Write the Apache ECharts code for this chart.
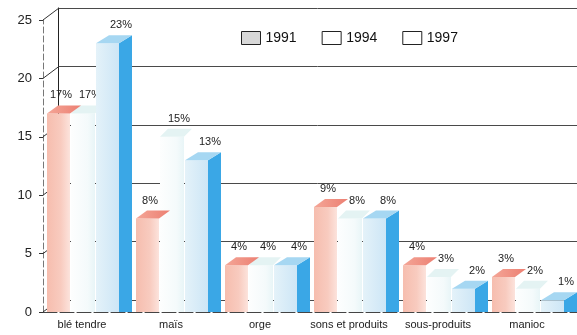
<!DOCTYPE html>
<html><head><meta charset="utf-8">
<script src="https://cdn.jsdelivr.net/npm/echarts@6/dist/echarts.min.js"></script>
<style>html,body{margin:0;padding:0;background:#fff}#c{width:577px;height:335px}</style>
</head><body><div id="c"></div>
<script>
// Parts (%) of each feed ingredient, three survey years
const categories = ['blé tendre', 'maïs', 'orge', 'sons et produits', 'sous-produits', 'manioc'];
const years = ['1991', '1994', '1997'];
const values1991 = [17, 8, 4, 9, 4, 3];
const values1994 = [17, 15, 4, 8, 3, 2];
const values1997 = [23, 13, 4, 8, 2, 1];
const yTicks = [0, 5, 10, 15, 20, 25];

const G = echarts.graphic;
// Box geometry in px of an 89px-wide category slot, plus colours
const barStyles = [
  { x0: 4, x1: 27, dx: 11, dy: 8, lx: 18,
    front: new G.LinearGradient(0, 0, 1, 0, [{offset: 0, color: '#f6bdae'}, {offset: 0.6, color: '#f8cbbf'}, {offset: 1, color: '#fce3dc'}]),
    top: new G.LinearGradient(0, 0, 1, 0, [{offset: 0, color: '#f4a697'}, {offset: 1, color: '#ec7f72'}]) },
  { x0: 28, x1: 52, dx: 8, dy: 8, lx: 47,
    front: new G.LinearGradient(0, 0, 1, 0, [{offset: 0, color: '#fdfefe'}, {offset: 0.7, color: '#f4fafb'}, {offset: 1, color: '#e8f5f7'}]),
    top: '#e4f3f3' },
  { x0: 53, x1: 76, xs: 89, dy: 8, lx: 78,
    front: new G.LinearGradient(0, 0, 1, 0, [{offset: 0, color: '#e4f2f9'}, {offset: 1, color: '#cde6f6'}]),
    side: '#3aa7e6',
    top: '#a6d7f2' }
];

function barRenderer(idx) {
  const st = barStyles[idx];
  return function (params, api) {
    const ci = api.value(0), v = api.value(1);
    const base = api.coord([ci, 0]);
    const top = api.coord([ci, v]);
    const cw = api.size([1, 0])[0];
    const k = cw / 89;
    const L = base[0] - cw / 2;
    const x0 = L + st.x0 * k, x1 = L + st.x1 * k;
    const yB = base[1], yT = top[1];
    const dy = st.dy;
    const children = [];
    children.push({ type: 'rect', shape: { x: x0, y: yT, width: x1 - x0, height: yB - yT }, style: { fill: st.front } });
    let dx = st.dx * k;
    if (st.side) {
      const xs = L + st.xs * k;
      dx = xs - x1;
      children.push({ type: 'polygon', shape: { points: [[x1, yB], [x1, yT], [xs, yT - dy], [xs, yB]] }, style: { fill: st.side } });
    }
    children.push({ type: 'polygon', shape: { points: [[x0, yT], [x1, yT], [x1 + dx, yT - dy], [x0 + dx, yT - dy]] }, style: { fill: st.top } });
    children.push({ type: 'text', style: { text: v + '%', x: L + st.lx * k, y: yT - 18, align: 'center', verticalAlign: 'middle', fontSize: 11, fontFamily: 'Liberation Sans', fill: '#222' } });
    return { type: 'group', children: children };
  };
}

const seriesValues = [values1991, values1994, values1997];
const legendFill = ['#d8d8d8', '#ffffff', '#ffffff'];

const chart = echarts.init(document.getElementById('c'));
chart.setOption({
  animation: false,
  backgroundColor: '#ffffff',
  textStyle: { fontFamily: 'Liberation Sans' },
  legend: {
    left: 236, top: 26, itemWidth: 19, itemHeight: 13, itemGap: 25, icon: 'rect',
    textStyle: { fontSize: 14, color: '#111', fontFamily: 'Liberation Sans', padding: [2, 0, 0, 0] },
    data: years.map((y, i) => ({ name: y, itemStyle: { color: legendFill[i], borderColor: '#222', borderWidth: 1 } }))
  },
  grid: [
    { left: 43, right: 0, top: 20, bottom: 23 },
    { left: 58, right: 0, top: 8, bottom: 35 }
  ],
  xAxis: [
    { type: 'category', data: categories, gridIndex: 0,
      axisLine: { lineStyle: { color: '#444', type: [14, 3] } },
      axisTick: { show: false },
      axisLabel: { fontSize: 11, color: '#222', margin: 7, padding: [0, 11, 0, 0], interval: 0 } },
    { type: 'value', gridIndex: 1, min: 0, max: 1, show: false }
  ],
  yAxis: [
    { type: 'value', gridIndex: 0, min: 0, max: 25, interval: 5,
      axisLine: { show: true, lineStyle: { color: '#777', type: [6, 3] } },
      axisTick: { show: true, length: 4, lineStyle: { color: '#333' } },
      axisLabel: { fontSize: 13, color: '#222', margin: 11 },
      splitLine: { show: false } },
    { type: 'value', gridIndex: 1, min: 0, max: 25, interval: 5,
      axisLine: { show: true, lineStyle: { color: '#222' } },
      axisTick: { show: false }, axisLabel: { show: false },
      splitLine: { show: true, lineStyle: { color: '#4a4a4a', width: 1 } } }
  ],
  series: [
    {
      type: 'custom', name: 'ticks', silent: true, z: 1,
      xAxisIndex: 0, yAxisIndex: 0,
      data: yTicks.map(v => [0, v]),
      renderItem: function (params, api) {
        const p = api.coord([0, api.value(1)]);
        const x = params.coordSys.x;
        return { type: 'line', shape: { x1: x, y1: p[1], x2: x + 16, y2: p[1] - 12 }, style: { stroke: '#333', lineWidth: 1 } };
      }
    }
  ].concat(years.map((y, i) => ({
    type: 'custom', name: y, xAxisIndex: 0, yAxisIndex: 0,
    z: i === 0 ? 4 : 3,
    itemStyle: { color: legendFill[i] },
    data: seriesValues[i].map((v, c) => [c, v]),
    renderItem: barRenderer(i)
  })))
});
</script></body></html>
